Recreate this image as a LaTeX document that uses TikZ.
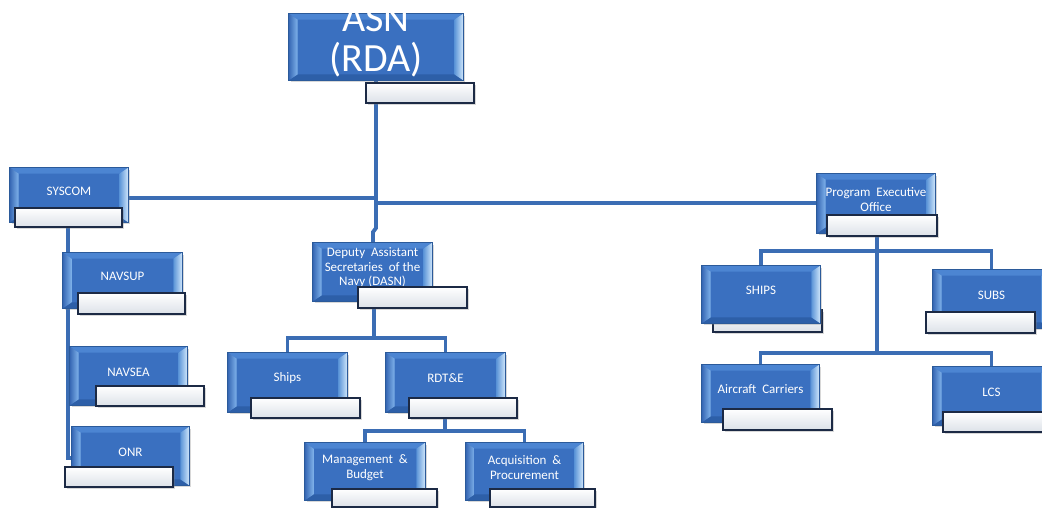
\documentclass[tikz,border=0pt]{standalone}
\usepackage{fontspec}
\setmainfont{Carlito}
\usetikzlibrary{fit,shadows}
\pgfdeclarelayer{bg}
\pgfsetlayers{bg,main}
\definecolor{face}{HTML}{3A70C0}
\definecolor{edgeb}{HTML}{2B5A9A}
\definecolor{bevtop}{HTML}{4C85D2}
\definecolor{bevbot}{HTML}{2D5FA8}
\definecolor{bevlA}{HTML}{3566B3}
\definecolor{bevlB}{HTML}{80B3EB}
\definecolor{bevrA}{HTML}{D2E8FC}
\definecolor{bevrB}{HTML}{5C95D8}
\definecolor{subedge}{HTML}{1C2A45}
\definecolor{subbot}{HTML}{DCE1E8}
\definecolor{connc}{HTML}{3B6DB4}
\tikzset{
  x=1pt, y=-1pt,
  body/.style={draw=edgeb, line width=0.8pt, fill=face, inner sep=0pt, rectangle,
    drop shadow={shadow xshift=1.5pt, shadow yshift=-2pt, opacity=0.3}},
  subb/.style={draw=subedge, line width=1.5pt, top color=white, bottom color=subbot,
    inner sep=0pt, rectangle,
    drop shadow={shadow xshift=1.5pt, shadow yshift=-2pt, opacity=0.3}},
  lbl/.style={text=white, font=\fontsize{13}{14.5}\selectfont, align=center, inner sep=0pt},
  conn/.style={draw=connc, line width=3.8pt},
}
\newcommand\bodybox[6]{%
  \path (#2,#3) coordinate (#1-nw) (#4,#5) coordinate (#1-se);
  \node[body, fit=(#1-nw)(#1-se)] (#1) {};
  \fill[bevtop] (#1.north west) -- (#1.north east) -- ([shift={(-9pt,-6pt)}]#1.north east) -- ([shift={(9pt,-6pt)}]#1.north west) -- cycle;
  \fill[bevbot] (#1.south west) -- (#1.south east) -- ([shift={(-9pt,6pt)}]#1.south east) -- ([shift={(9pt,6pt)}]#1.south west) -- cycle;
  \shade[left color=bevlA, right color=bevlB] (#1.north west) -- (#1.south west) -- ([shift={(9pt,6pt)}]#1.south west) -- ([shift={(9pt,-6pt)}]#1.north west) -- cycle;
  \shade[left color=bevrB, right color=bevrA] (#1.north east) -- (#1.south east) -- ([shift={(-9pt,6pt)}]#1.south east) -- ([shift={(-9pt,-6pt)}]#1.north east) -- cycle;
  \draw[edgeb, line width=0.8pt] (#1.north west) rectangle (#1.south east);
  \node[lbl] (#1-t) at ([yshift=4pt]#1.center) {#6};
}
\newcommand\subbox[5]{%
  \path (#2,#3) coordinate (#1-a) (#4,#5) coordinate (#1-b);
  \node[subb, fit=(#1-a)(#1-b)] (#1) {};
}
\begin{document}
\begin{tikzpicture}
\clip (0,0) rectangle (1042,508);
\begin{pgfonlayer}{bg}
\fill[white] (0,0) rectangle (1042,508);
\end{pgfonlayer}
% junction coordinates
\coordinate (jA) at (376,198);
\coordinate (jB) at (376,203);
\coordinate (jC) at (376,228);
\coordinate (jD) at (373,232);
\coordinate (sv) at (68,222);
\coordinate (dj) at (374,338);
\coordinate (rj) at (445,431);
\coordinate (pj1) at (877,251);
\coordinate (pj2) at (877,353);
% ---- boxes ----
\bodybox{asn}{289}{14}{463}{80}{}
\node[lbl, font=\fontsize{40}{40}\selectfont] (asn-t2) at (376,41) {ASN\\(RDA)};
\subbox{asn-s}{366}{83}{474}{103}
\bodybox{syscom}{10}{168}{128}{222}{SYSCOM}
\subbox{syscom-s}{15}{208}{122}{227}
\bodybox{navsup}{63}{253}{182}{308}{NAVSUP}
\subbox{navsup-s}{78}{293}{185}{314}
\bodybox{navsea}{70}{347}{187}{405}{NAVSEA}
\subbox{navsea-s}{96}{386}{204}{406}
\bodybox{onr}{72}{427}{189}{485}{ONR}
\subbox{onr-s}{65}{467}{173}{487}
\bodybox{dasn}{313}{243}{432}{301}{Deputy\ \ Assistant\\Secretaries\ \ of the\\Navy (DASN)}
\subbox{dasn-s}{358}{287}{467}{308}
\bodybox{ships}{228}{353}{347}{412}{Ships}
\subbox{ships-s}{251}{398}{360}{418}
\bodybox{rdte}{386}{353}{505}{412}{RDT\&E}
\subbox{rdte-s}{409}{398}{517}{418}
\bodybox{mgmt}{305}{443}{425}{500}{Management\ \ \&\\Budget}
\subbox{mgmt-s}{332}{489}{437}{507}
\bodybox{acq}{466}{443}{583}{500}{Acquisition\ \ \&\\Procurement}
\subbox{acq-s}{490}{489}{595}{507}
\bodybox{peo}{817}{174}{935}{233}{Program\ \ Executive\\Office}
\subbox{peo-s}{827}{215}{937}{236}
\subbox{shipsR-s}{713}{310}{822}{332}
\bodybox{shipsR}{702}{266}{820}{323}{SHIPS}
\bodybox{subs}{933}{270}{1050}{328}{SUBS}
\subbox{subs-s}{926}{312}{1035}{333}
\bodybox{ac}{702}{365}{819}{422}{Aircraft\ \ Carriers}
\subbox{ac-s}{723}{409}{832}{430}
\bodybox{lcs}{933}{367}{1050}{425}{LCS}
\subbox{lcs-s}{943}{412}{1052}{432}
% ---- connectors (behind the boxes) ----
\begin{pgfonlayer}{bg}
\draw[conn] (asn.south) -- (jC) -- (jD) -- (jD |- dasn.north);
\draw[conn] (syscom.east |- jA) -- (jA);
\draw[conn] (jB) -- (peo.west |- jB);
\draw[conn] (sv) |- (navsup.west);
\draw[conn] (sv) |- (navsea.west);
\draw[conn] (sv) |- ([yshift=-2pt]onr.west);
\draw[conn] (dasn.south -| dj) -- (dj);
\draw[conn] (ships.north) |- (dj) -| (rdte.north);
\draw[conn] (rdte.south -| rj) -- (rj);
\draw[conn] (mgmt.north) |- (rj) -| (acq.north);
\draw[conn] (peo.south -| pj1) -- (pj2);
\draw[conn] (shipsR.north) |- (pj1) -| (subs.north);
\draw[conn] (ac.north) |- (pj2) -| (lcs.north);
\end{pgfonlayer}
\end{tikzpicture}
\end{document}
